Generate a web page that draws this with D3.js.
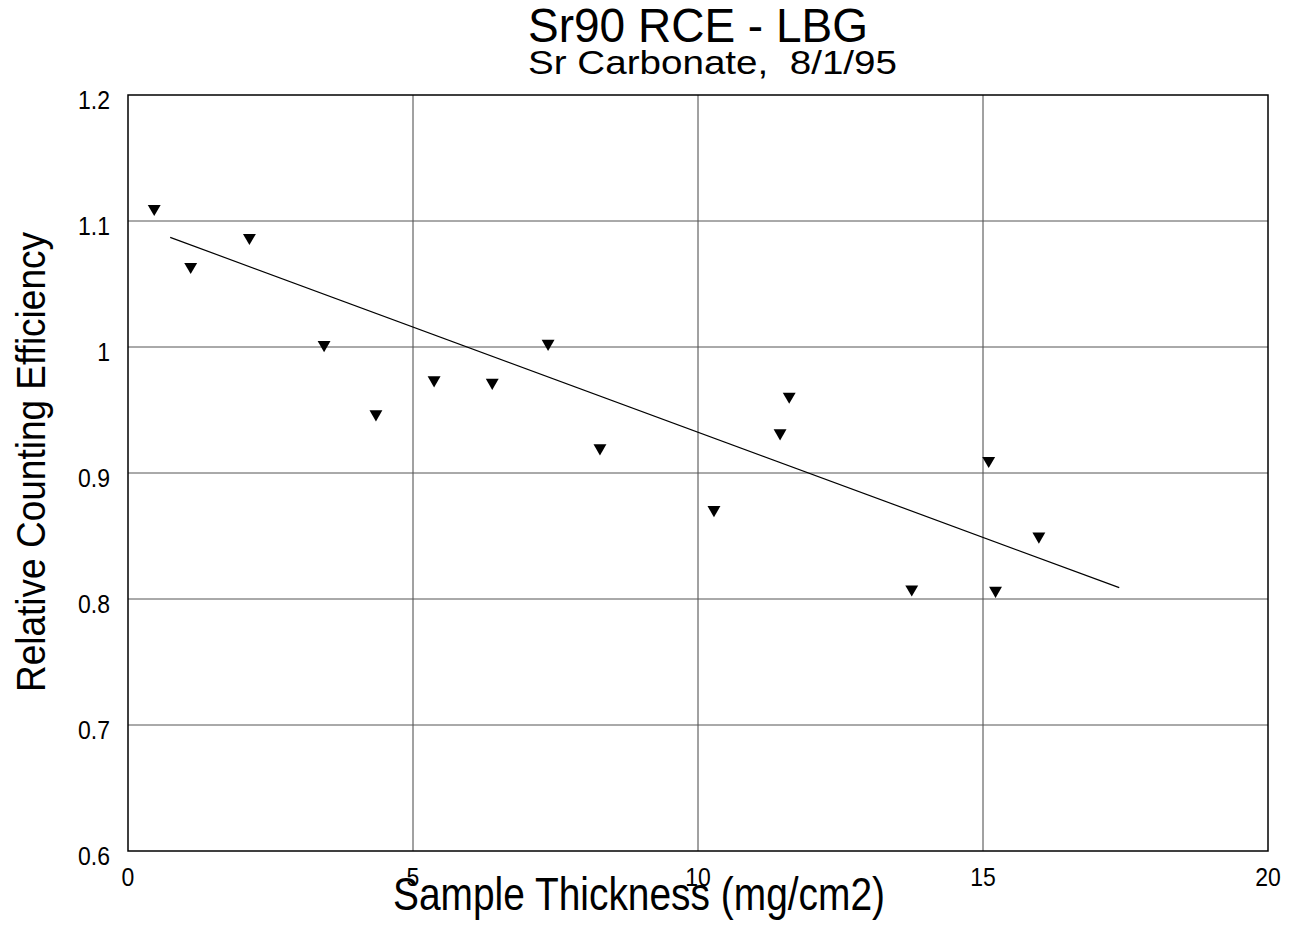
<!DOCTYPE html>
<html>
<head>
<meta charset="utf-8">
<script src="https://cdn.jsdelivr.net/npm/d3@7"></script>
<style>
  body { margin: 0; background: #fff; }
  text { font-family: "Liberation Sans", Arial, sans-serif; fill: #000; }
</style>
</head>
<body>
<div id="chart"></div>
<script>
// Sample thickness (mg/cm2) and relative counting efficiency
const thickness = [0.46, 1.10, 2.13, 3.44, 4.35, 5.37, 6.39, 7.37, 8.28, 10.28, 11.44, 11.60, 13.75, 15.10, 15.22, 15.98];
const rce = [1.109, 1.063, 1.086, 1.001, 0.946, 0.973, 0.971, 1.002, 0.919, 0.870, 0.931, 0.960, 0.807, 0.909, 0.806, 0.849];

// fitted line end points
const fitX = [0.74, 17.39];
const fitY = [1.087, 0.809];

const xTicks = [0, 5, 10, 15, 20];
const yTicks = [0.6, 0.7, 0.8, 0.9, 1.0, 1.1, 1.2];

const W = 1295, H = 928;
const plot = {left: 128, top: 95, right: 1268, bottom: 851};

const x = d3.scaleLinear().domain([0, 20]).range([plot.left, plot.right]);
const y = d3.scaleLinear().domain([0.6, 1.2]).range([plot.bottom, plot.top]);

const svg = d3.select("#chart").append("svg")
    .attr("width", W)
    .attr("height", H);

// grid
svg.append("g")
    .selectAll("line")
    .data(xTicks.slice(1, -1))
    .enter().append("line")
    .attr("x1", d => x(d)).attr("x2", d => x(d))
    .attr("y1", plot.top).attr("y2", plot.bottom)
    .attr("stroke", "#444").attr("stroke-width", 1);

svg.append("g")
    .selectAll("line")
    .data(yTicks.slice(1, -1))
    .enter().append("line")
    .attr("x1", plot.left).attr("x2", plot.right)
    .attr("y1", d => y(d)).attr("y2", d => y(d))
    .attr("stroke", "#555").attr("stroke-width", 1);

// frame
svg.append("rect")
    .attr("x", plot.left).attr("y", plot.top)
    .attr("width", plot.right - plot.left)
    .attr("height", plot.bottom - plot.top)
    .attr("fill", "none")
    .attr("stroke", "#000")
    .attr("stroke-width", 1.5);

// tick labels (slightly tall glyphs like the scanned original)
svg.append("g")
    .selectAll("text")
    .data(yTicks)
    .enter().append("text")
    .attr("transform", d => `translate(110,${y(d) + 14}) scale(1,1.1)`)
    .attr("text-anchor", "end")
    .style("font-size", "23px")
    .text(d => d === 1 ? "1" : d3.format(".1f")(d));

svg.append("g")
    .selectAll("text")
    .data(xTicks)
    .enter().append("text")
    .attr("transform", d => `translate(${x(d)},886) scale(1,1.1)`)
    .attr("text-anchor", "middle")
    .style("font-size", "23px")
    .text(d => d);

// regression line
const line = d3.line()
    .x(d => x(d[0]))
    .y(d => y(d[1]));

svg.append("path")
    .datum(fitX.map((v, i) => [v, fitY[i]]))
    .attr("d", line)
    .attr("fill", "none")
    .attr("stroke", "#000")
    .attr("stroke-width", 1.2);

// points (downward triangles)
const tri = d3.symbol().type(d3.symbolTriangle).size(72);
svg.append("g")
    .selectAll("path")
    .data(thickness.map((v, i) => [v, rce[i]]))
    .enter().append("path")
    .attr("d", tri)
    .attr("transform", d => `translate(${x(d[0])},${y(d[1]) - 1}) rotate(180)`)
    .attr("fill", "#000");

// titles
svg.append("text")
    .attr("x", 528).attr("y", 42)
    .attr("textLength", 340)
    .attr("lengthAdjust", "spacingAndGlyphs")
    .style("font-size", "48px")
    .text("Sr90 RCE - LBG");

svg.append("text")
    .attr("x", 528).attr("y", 74)
    .attr("textLength", 369)
    .attr("lengthAdjust", "spacingAndGlyphs")
    .style("font-size", "34px")
    .style("white-space", "pre")
    .text("Sr Carbonate,  8/1/95");

// axis labels
svg.append("text")
    .attr("x", 393).attr("y", 910)
    .attr("textLength", 492)
    .attr("lengthAdjust", "spacingAndGlyphs")
    .style("font-size", "47px")
    .text("Sample Thickness (mg/cm2)");

svg.append("text")
    .attr("transform", "translate(45,692) rotate(-90)")
    .attr("textLength", 460)
    .attr("lengthAdjust", "spacingAndGlyphs")
    .style("font-size", "41px")
    .text("Relative Counting Efficiency");
</script>
</body>
</html>
